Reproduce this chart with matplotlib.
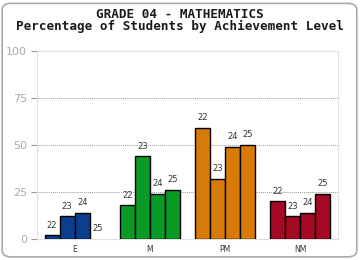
import numpy as np
import matplotlib
matplotlib.use("Agg")
import matplotlib.pyplot as plt
from matplotlib.patches import FancyBboxPatch

# achievement levels and years
levels = ["E", "M", "PM", "NM"]
years = ["22", "23", "24", "25"]
colors = ["#0a3f8f", "#0c9a26", "#d67b07", "#a50a24"]

# percent of students per level, one list per year
pct_22 = [2, 18, 59, 20]
pct_23 = [12, 44, 32, 12]
pct_24 = [14, 24, 49, 14]
pct_25 = [0, 26, 50, 24]
series = [pct_22, pct_23, pct_24, pct_25]

fig = plt.figure(figsize=(3.6, 2.6), dpi=100)
fig.patch.set_facecolor("white")

# rounded outer border
border = FancyBboxPatch((0.006, 0.012), 0.985, 0.975,
                        boxstyle="round,pad=0,rounding_size=0.025",
                        transform=fig.transFigure, fill=False,
                        edgecolor="#aaaaaa", linewidth=1.2)
fig.patches.append(border)

fig.text(0.5, 0.945, "GRADE 04 - MATHEMATICS", ha="center", va="center",
         family="DejaVu Sans Mono", fontweight="bold", fontsize=9.1, color="#1a1a1a")
fig.text(0.5, 0.898, "Percentage of Students by Achievement Level", ha="center",
         va="center", family="DejaVu Sans Mono", fontweight="bold", fontsize=9.1,
         color="#1a1a1a")

ax = fig.add_axes([37 / 360, 21 / 260, 301 / 360, 188 / 260])
x = np.arange(len(levels))
w = 0.2
offsets = [-0.3, -0.1, 0.1, 0.3]

for j, vals in enumerate(series):
    for i, v in enumerate(vals):
        # zero bars leave no visible mark
        ax.bar(x[i] + offsets[j], v, width=w, color=colors[i],
               edgecolor="black", linewidth=1.0 if v > 0 else 0, zorder=3)
        ax.text(x[i] + offsets[j], v + 3, years[j], ha="center", va="bottom",
                fontsize=6, color="#333333", zorder=4)

ax.set_xlim(-0.5, 3.5)
ax.set_ylim(0, 100)
ax.set_yticks([0, 25, 50, 75, 100])
ax.set_xticks(x)
ax.set_xticklabels(levels, fontsize=5.5, color="#333333")
ax.tick_params(axis="x", length=0, pad=4)
ax.tick_params(axis="y", length=4, width=0.8, color="#999999", labelsize=8,
               labelcolor="#aaaaaa", pad=3)
for y in [25, 50, 75]:
    ax.axhline(y, color="#999999", linestyle=(0, (1, 1)), linewidth=0.7, zorder=1)
for s in ax.spines.values():
    s.set_color("#e0e0e0")
    s.set_linewidth(0.8)

fig.savefig("out.png", dpi=100)
